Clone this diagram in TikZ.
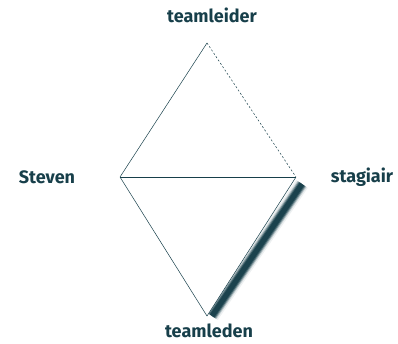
\documentclass[tikz,border=0pt]{standalone}
\usepackage{fontspec}
\setmainfont{Fira Sans}
\definecolor{tealdark}{HTML}{173F4A}
\begin{document}
\begin{tikzpicture}[
    x=1pt, y=-1pt,
    lbl/.style={font=\bfseries\fontsize{18}{20}\selectfont, text=tealdark, inner sep=0pt},
    edge/.style={draw=tealdark, line width=0.5pt}
    ]
    \useasboundingbox (0,0) rectangle (398,343);

    % Hoekpunten
    \coordinate (top) at (207,43);
    \coordinate (left) at (120,177);
    \coordinate (right) at (296,177);
    \coordinate (bot) at (207,316);

    % Schaduw langs de rechteronderkant
    \foreach \w/\o in {14/0.08, 11/0.2, 9/0.4, 7/0.65, 5/0.9} {
        \draw [tealdark, line width=\w pt, opacity=\o]
            ([shift={(6,7)}]right) -- ([shift={(5,0)}]bot);
    }
    \fill [white] (left) -- (right) -- (bot) -- cycle;

    % Zijden
    \draw [edge] (left) -- (top);
    \draw [edge, dash pattern=on 2pt off 2pt] (top) -- (right);
    \draw [edge] (left) -- (right);
    \draw [edge] (left) -- (bot);
    \draw [edge] (bot) -- (right);

    % Namen
    \node[lbl] (teamleider) at (212,15) {teamleider};
    \node[lbl] (steven) at (47,177) {Steven};
    \node[lbl] (stagiair) at (362,177) {stagiair};
    \node[lbl] (teamleden) at (209,331) {teamleden};

\end{tikzpicture}
\end{document}
